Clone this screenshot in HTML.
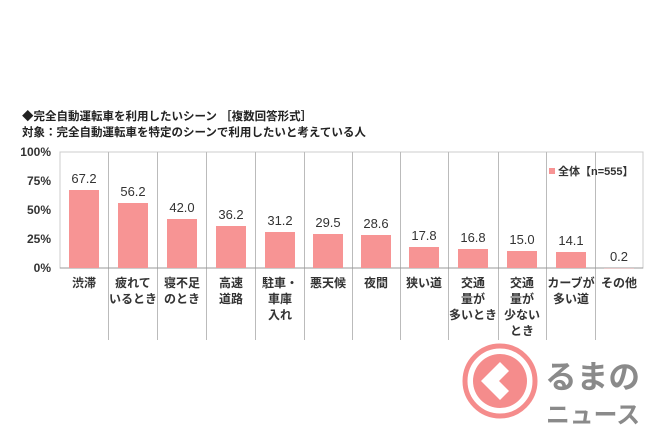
<!DOCTYPE html><html><head><meta charset="utf-8"><style>
body{margin:0;width:650px;height:433px;background:#fff;overflow:hidden;font-family:"Liberation Sans","Noto Sans CJK JP",sans-serif;}
</style></head><body>
<svg width="650" height="433" xmlns="http://www.w3.org/2000/svg" font-family="Liberation Sans, Noto Sans CJK JP, sans-serif">
<text x="22" y="120" font-size="11.5" font-weight="bold" fill="#222">◆完全自動運転車を利用したいシーン ［複数回答形式］</text>
<text x="22" y="136" font-size="11.5" font-weight="bold" fill="#222">対象：完全自動運転車を特定のシーンで利用したいと考えている人</text>
<g font-size="12" font-weight="bold" fill="#333" text-anchor="end">
<text x="51" y="156">100%</text><text x="51" y="185">75%</text><text x="51" y="214">50%</text><text x="51" y="243">25%</text><text x="51" y="272">0%</text></g>
<rect x="60" y="152" width="583" height="116" fill="none" stroke="#ccc"/>
<g stroke="#bbb" stroke-width="1">
<line x1="108.5" y1="152" x2="108.5" y2="340"/><line x1="157.5" y1="152" x2="157.5" y2="340"/><line x1="206.5" y1="152" x2="206.5" y2="340"/><line x1="255.5" y1="152" x2="255.5" y2="340"/><line x1="304.5" y1="152" x2="304.5" y2="340"/><line x1="352.5" y1="152" x2="352.5" y2="340"/><line x1="400.5" y1="152" x2="400.5" y2="340"/><line x1="448.5" y1="152" x2="448.5" y2="340"/><line x1="498.5" y1="152" x2="498.5" y2="340"/><line x1="546.5" y1="152" x2="546.5" y2="340"/><line x1="595.5" y1="152" x2="595.5" y2="340"/>
</g>
<line x1="60" y1="268" x2="643" y2="268" stroke="#999"/>
<g fill="#f79494">
<rect x="69" y="190" width="30" height="78"/><rect x="118" y="203" width="30" height="65"/><rect x="167" y="219" width="30" height="49"/><rect x="216" y="226" width="30" height="42"/><rect x="265" y="232" width="30" height="36"/><rect x="313" y="234" width="30" height="34"/><rect x="361" y="235" width="30" height="33"/><rect x="409" y="247" width="30" height="21"/><rect x="458" y="249" width="30" height="19"/><rect x="507" y="251" width="30" height="17"/><rect x="556" y="252" width="30" height="16"/><rect x="604" y="268" width="30" height="0.3"/>
</g>
<g font-size="13" fill="#333" text-anchor="middle">
<text x="84" y="183">67.2</text><text x="133" y="196">56.2</text><text x="182" y="212">42.0</text><text x="231" y="219">36.2</text><text x="280" y="225">31.2</text><text x="328" y="227">29.5</text><text x="376" y="228">28.6</text><text x="424" y="240">17.8</text><text x="473" y="242">16.8</text><text x="522" y="244">15.0</text><text x="571" y="245">14.1</text><text x="619" y="261">0.2</text>
</g>
<rect x="549" y="168" width="6" height="6" fill="#f79494"/>
<text x="558" y="175" font-size="11" font-weight="bold" fill="#333">全体【n=555】</text>
<g font-size="12" font-weight="bold" fill="#333" text-anchor="middle">
<text x="84" y="287">渋滞</text>
<text x="133" y="287">疲れて</text><text x="133" y="303">いるとき</text>
<text x="182" y="287">寝不足</text><text x="182" y="303">のとき</text>
<text x="231" y="287">高速</text><text x="231" y="303">道路</text>
<text x="280" y="287">駐車・</text><text x="280" y="303">車庫</text><text x="280" y="319">入れ</text>
<text x="328" y="287">悪天候</text>
<text x="376" y="287">夜間</text>
<text x="424" y="287">狭い道</text>
<text x="473" y="287">交通</text><text x="473" y="303">量が</text><text x="473" y="319">多いとき</text>
<text x="522" y="287">交通</text><text x="522" y="303">量が</text><text x="522" y="319">少ない</text><text x="522" y="335">とき</text>
<text x="571" y="287">カーブが</text><text x="571" y="303">多い道</text>
<text x="619" y="287">その他</text>
</g>
<circle cx="500" cy="381" r="35" fill="none" stroke="#f58c8c" stroke-width="5"/>
<circle cx="500" cy="381" r="27" fill="#f58c8c"/>
<path d="M500 362 L481 381 L500 400 L509 391 L499 381 L509 371 Z" fill="#fff"/>
<text x="545" y="388" font-size="32" font-weight="bold" fill="#8a8a8a" textLength="95" lengthAdjust="spacingAndGlyphs">るまの</text>
<text x="546" y="423" font-size="24" font-weight="bold" fill="#8a8a8a" textLength="94" lengthAdjust="spacingAndGlyphs">ニュース</text>
</svg>
</body></html>
